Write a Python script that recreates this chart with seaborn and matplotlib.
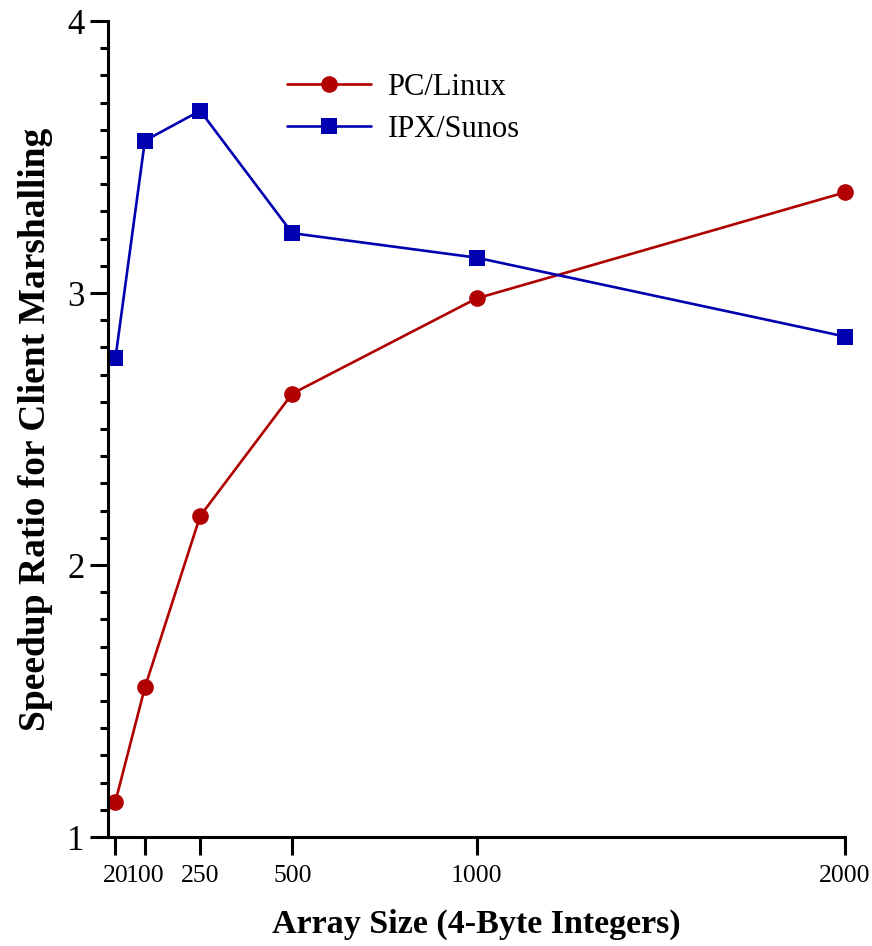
import numpy as np
import pandas as pd
import seaborn as sns
import matplotlib
import matplotlib.pyplot as plt
from matplotlib.ticker import MultipleLocator

matplotlib.use('Agg')

sizes = [20, 100, 250, 500, 1000, 2000]
pc_linux = [1.13, 1.55, 2.18, 2.63, 2.98, 3.37]
ipx_sunos = [2.76, 3.56, 3.67, 3.22, 3.13, 2.84]
series = ["PC/Linux", "IPX/Sunos"]

df = pd.DataFrame({
    "size": sizes * 2,
    "ratio": pc_linux + ipx_sunos,
    "system": [series[0]] * len(sizes) + [series[1]] * len(sizes),
})

sns.set_style("ticks", {"axes.edgecolor": "black", "xtick.color": "black",
                        "ytick.color": "black", "text.color": "black",
                        "axes.labelcolor": "black"})
plt.rcParams['font.family'] = ['Liberation Serif', 'DejaVu Serif']

fig = plt.figure(figsize=(8.72, 9.46), dpi=100)
ax = fig.add_axes([0.1239, 0.1152, 0.969 - 0.1239, 0.9778 - 0.1152])

sns.lineplot(data=df, x="size", y="ratio", hue="system", style="system",
             palette={"PC/Linux": "#b00000", "IPX/Sunos": "#0000b0"},
             markers={"PC/Linux": "o", "IPX/Sunos": "s"},
             dashes=False, markersize=12, linewidth=1.9,
             markeredgewidth=0, ax=ax, clip_on=False)

ax.set_xlim(0, 2000)
ax.set_ylim(1, 4)
ax.set_xticks(sizes)
ax.set_xticklabels([str(s) for s in sizes], fontsize=18.5)
ax.set_yticks([1, 2, 3, 4])
ax.set_yticklabels(["1", "2", "3", "4"], fontsize=25)
ax.yaxis.set_minor_locator(MultipleLocator(0.1))

for side in ["top", "right"]:
    ax.spines[side].set_visible(False)
for side in ["left", "bottom"]:
    ax.spines[side].set_linewidth(2.2)

ax.tick_params(axis="both", which="major", length=13, width=2.2, direction="out")
ax.tick_params(axis="y", which="minor", length=6, width=2.2, direction="out")
ax.tick_params(axis="y", which="major", pad=4)
ax.tick_params(axis="x", which="major", pad=7)

ax.set_xlabel("Array Size (4-Byte Integers)", fontsize=24.5, fontweight="bold", labelpad=16)
ax.set_ylabel("Speedup Ratio for Client Marshalling", fontsize=27, fontweight="bold", labelpad=10)

leg = ax.legend(title=None, frameon=False, fontsize=22, loc="upper left",
                bbox_to_anchor=(0.205, 0.97), handlelength=2.75, handletextpad=0.55,
                labelspacing=0.42)

fig.savefig("out.png", dpi=100)
